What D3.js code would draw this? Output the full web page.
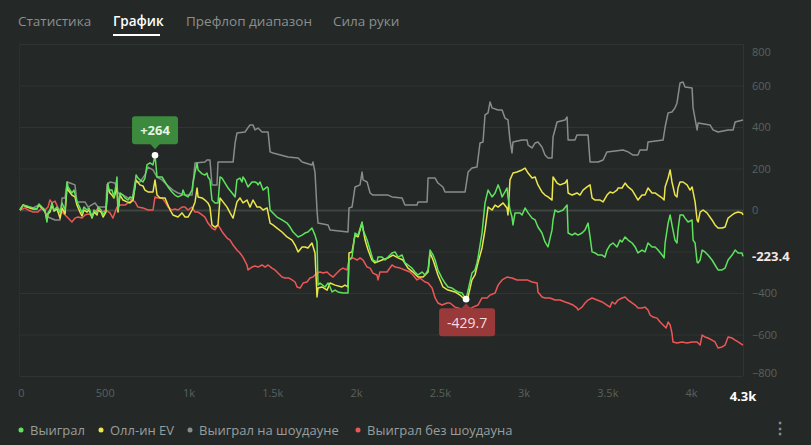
<!DOCTYPE html>
<html><head><meta charset="utf-8">
<script src="https://cdn.jsdelivr.net/npm/d3@7"></script>
<style>
html,body{margin:0;padding:0;background:#242928;}
svg{display:block;}
text{font-family:"Open Sans","Noto Sans",sans-serif;}
</style></head><body>
<svg id="c" width="811" height="445"></svg>
<script>
const tabs = ["Статистика","График","Префлоп диапазон","Сила руки"];
const tabX = [18,113,186,333];
const yTicks = [800,600,400,200,0,-200,-400,-600,-800];
const yTickLabelsShown = [800,600,400,200,0,-400,-600,-800];
const xTicks = [0,500,1000,1500,2000,2500,3000,3500,4000];
const xTickLabels = ["0","500","1k","1.5k","2k","2.5k","3k","3.5k","4k"];
const totalHands = 4316;
const seriesNames = ["Выиграл","Олл-ин EV","Выиграл на шоудауне","Выиграл без шоудауна"];
const seriesColors = ["#5ee35c","#ece64a","#8a8c8b","#ee5656"];

const wonData = [[0,0],[18,24],[42,19],[60,14],[78,10],[101,5],[113,29],[131,14],[149,0],[161,-58],[167,-14],[179,0],[191,34],[203,0],[221,14],[239,-14],[251,34],[269,0],[281,135],[287,111],[310,82],[322,96],[340,39],[358,10],[370,-14],[382,14],[400,0],[412,10],[430,-34],[442,0],[460,-14],[466,14],[484,0],[496,-24],[513,0],[525,130],[531,96],[549,96],[561,63],[573,121],[579,159],[585,0],[597,82],[615,72],[627,58],[645,48],[657,63],[669,58],[681,82],[693,169],[704,154],[716,145],[734,135],[746,154],[758,217],[776,227],[794,217],[806,264],[818,159],[836,159],[848,159],[866,135],[884,111],[907,87],[925,72],[943,63],[967,72],[973,96],[985,72],[1003,63],[1027,96],[1033,135],[1045,183],[1057,227],[1063,193],[1087,174],[1104,169],[1116,178],[1122,159],[1134,145],[1146,48],[1164,34],[1182,34],[1194,159],[1206,154],[1224,130],[1242,106],[1266,82],[1284,63],[1295,145],[1313,154],[1325,135],[1331,159],[1343,145],[1361,111],[1385,135],[1403,135],[1415,130],[1421,121],[1433,135],[1451,96],[1475,111],[1481,106],[1493,0],[1510,-14],[1534,-34],[1564,-48],[1594,-63],[1612,-82],[1630,-106],[1660,-130],[1684,-121],[1701,-111],[1719,-106],[1743,-87],[1761,-121],[1773,-154],[1779,-362],[1791,-352],[1821,-371],[1839,-352],[1851,-371],[1863,-395],[1881,-386],[1898,-395],[1928,-400],[1958,-400],[1964,-241],[1982,-227],[2000,-111],[2018,-121],[2042,-58],[2048,-96],[2072,-145],[2090,-193],[2107,-241],[2131,-251],[2137,-227],[2161,-227],[2179,-241],[2197,-227],[2221,-207],[2239,-202],[2257,-227],[2281,-217],[2298,-255],[2316,-265],[2340,-280],[2358,-299],[2376,-313],[2400,-299],[2418,-313],[2436,-289],[2448,-193],[2466,-217],[2478,-241],[2495,-289],[2519,-328],[2537,-352],[2555,-371],[2579,-376],[2597,-386],[2615,-395],[2639,-400],[2657,-424],[2663,-429.7],[2675,-386],[2698,-304],[2716,-289],[2728,-255],[2734,-231],[2758,-111],[2776,34],[2794,96],[2818,63],[2836,82],[2854,121],[2866,96],[2878,63],[2895,87],[2907,106],[2913,63],[2925,0],[2937,-34],[2943,-72],[2955,-14],[2985,-14],[2997,-24],[3015,10],[3033,-14],[3057,-39],[3075,-48],[3092,-82],[3116,-111],[3134,-154],[3152,-178],[3176,-96],[3182,-48],[3194,0],[3212,-10],[3242,0],[3266,24],[3272,-111],[3296,-121],[3313,-111],[3331,-121],[3355,-111],[3373,-96],[3391,-63],[3403,-130],[3415,-202],[3433,-207],[3451,-217],[3475,-217],[3492,-227],[3504,-193],[3522,-169],[3540,-159],[3564,-178],[3582,-145],[3594,-154],[3612,-130],[3630,-145],[3654,-159],[3672,-178],[3689,-207],[3713,-193],[3731,-202],[3749,-159],[3773,-178],[3791,-178],[3809,-193],[3833,-217],[3845,-231],[3851,-159],[3869,-63],[3881,-24],[3892,-72],[3910,-145],[3922,-159],[3928,-96],[3940,-24],[3958,-24],[3970,-39],[3988,-58],[4012,-48],[4018,-145],[4030,-159],[4042,-251],[4048,-255],[4060,-241],[4072,-193],[4089,-202],[4107,-217],[4131,-241],[4149,-265],[4167,-289],[4191,-289],[4209,-280],[4227,-241],[4251,-217],[4269,-193],[4287,-207],[4310,-207],[4316,-223.4]];

const allinEvData = [[0,0],[18,24],[42,14],[60,10],[78,5],[101,5],[113,24],[131,10],[149,-5],[161,-48],[167,-19],[179,-10],[191,24],[203,-5],[221,5],[239,-39],[251,10],[269,-19],[281,111],[287,96],[310,72],[328,63],[340,24],[358,-10],[370,-29],[382,0],[400,-10],[412,0],[430,-39],[442,-10],[460,-24],[466,0],[484,-10],[496,-34],[513,-10],[525,111],[537,82],[549,72],[561,58],[579,111],[585,-10],[597,72],[615,48],[639,39],[657,34],[675,48],[693,145],[716,121],[734,116],[746,96],[764,87],[794,87],[806,145],[818,72],[836,58],[866,58],[878,34],[896,0],[913,-24],[943,-34],[967,-14],[985,-34],[1003,-34],[1027,0],[1045,39],[1057,106],[1063,63],[1087,58],[1104,48],[1122,34],[1134,14],[1146,-72],[1164,-82],[1182,-72],[1194,58],[1212,39],[1236,14],[1254,-14],[1272,-39],[1295,39],[1313,58],[1331,34],[1355,48],[1373,14],[1391,48],[1415,14],[1433,14],[1451,0],[1475,10],[1493,-63],[1510,-72],[1534,-87],[1564,-106],[1594,-130],[1624,-145],[1642,-169],[1660,-202],[1684,-178],[1701,-178],[1719,-183],[1743,-159],[1761,-207],[1773,-419],[1779,-376],[1803,-371],[1833,-386],[1851,-352],[1881,-362],[1922,-371],[1940,-362],[1958,-371],[1964,-207],[1982,-202],[2000,-121],[2018,-130],[2042,-63],[2060,-145],[2078,-193],[2101,-241],[2119,-255],[2161,-241],[2197,-231],[2227,-217],[2257,-231],[2286,-241],[2316,-280],[2346,-299],[2376,-323],[2406,-323],[2436,-299],[2448,-207],[2466,-241],[2495,-313],[2525,-371],[2555,-386],[2597,-395],[2627,-410],[2657,-434],[2675,-419],[2698,-337],[2716,-313],[2734,-255],[2758,-183],[2776,-96],[2794,14],[2818,0],[2836,24],[2854,14],[2884,34],[2907,10],[2913,-24],[2925,145],[2943,178],[2967,183],[2997,193],[3015,202],[3033,178],[3057,154],[3075,159],[3092,121],[3116,87],[3134,72],[3152,63],[3176,48],[3182,159],[3206,130],[3224,121],[3254,130],[3266,145],[3272,82],[3296,72],[3325,82],[3343,72],[3361,96],[3385,111],[3403,121],[3415,58],[3433,48],[3463,48],[3481,39],[3504,72],[3522,87],[3540,82],[3564,96],[3570,106],[3594,106],[3612,130],[3630,111],[3654,96],[3672,72],[3689,48],[3713,72],[3731,72],[3749,106],[3773,82],[3791,82],[3809,72],[3833,58],[3845,48],[3851,111],[3869,154],[3881,193],[3892,135],[3910,72],[3922,63],[3928,106],[3940,135],[3958,135],[3982,121],[4000,96],[4012,111],[4030,39],[4042,-48],[4048,-58],[4060,-10],[4078,0],[4101,-14],[4131,-48],[4149,-72],[4167,-87],[4191,-87],[4209,-82],[4227,-39],[4251,-24],[4269,-14],[4287,-10],[4310,-14],[4316,-24]];

const showdownData = [[0,0],[18,24],[42,14],[78,10],[113,24],[149,-10],[167,-34],[209,-48],[239,-48],[251,58],[269,58],[281,135],[299,130],[328,121],[340,39],[388,39],[406,14],[448,34],[466,14],[513,14],[519,121],[537,135],[567,130],[585,82],[615,72],[669,48],[687,135],[716,135],[746,169],[764,207],[794,193],[818,159],[848,145],[884,116],[913,96],[943,82],[985,72],[1027,72],[1045,227],[1104,231],[1116,241],[1134,241],[1146,121],[1176,121],[1182,231],[1272,231],[1284,323],[1295,371],[1343,376],[1373,410],[1391,410],[1403,386],[1421,395],[1445,376],[1481,376],[1493,280],[1510,275],[1600,255],[1660,251],[1684,231],[1743,217],[1749,231],[1761,183],[1773,0],[1779,-63],[1839,-72],[1851,-96],[1958,-106],[1964,10],[1982,14],[2000,111],[2030,121],[2042,183],[2048,145],[2072,135],[2090,82],[2107,72],[2197,72],[2221,63],[2281,58],[2298,24],[2370,24],[2376,39],[2430,39],[2436,154],[2478,154],[2495,130],[2525,111],[2537,87],[2657,87],[2675,183],[2698,202],[2728,207],[2746,323],[2764,328],[2776,458],[2794,468],[2806,521],[2818,492],[2854,482],[2878,482],[2895,443],[2913,434],[2925,337],[2937,275],[2943,328],[2997,337],[3027,337],[3033,313],[3057,299],[3075,323],[3092,328],[3116,304],[3134,265],[3152,251],[3176,251],[3182,352],[3206,424],[3254,434],[3266,448],[3272,337],[3313,337],[3325,362],[3391,362],[3403,231],[3451,231],[3481,241],[3504,280],[3600,289],[3630,280],[3660,265],[3689,265],[3701,289],[3743,289],[3749,328],[3839,337],[3851,400],[3869,468],[3892,472],[3910,492],[3922,516],[3940,612],[3958,617],[3970,593],[4012,588],[4018,492],[4042,386],[4048,419],[4119,410],[4137,386],[4167,376],[4227,386],[4257,386],[4269,424],[4316,434]];

const nonShowdownData = [[0,0],[30,10],[48,0],[78,-10],[107,-10],[131,10],[149,0],[167,14],[179,48],[191,34],[209,43],[227,10],[251,-10],[269,-24],[287,-39],[310,-58],[328,-39],[346,-34],[370,-39],[388,-24],[406,-19],[430,-24],[448,-10],[466,10],[490,-10],[513,0],[537,-14],[555,-39],[579,14],[597,24],[627,24],[645,34],[669,48],[687,39],[704,14],[734,10],[764,0],[794,0],[806,63],[824,58],[848,58],[866,39],[884,14],[907,0],[925,5],[943,0],[967,14],[985,14],[1003,0],[1027,14],[1045,-10],[1063,-10],[1087,-24],[1104,-34],[1122,-63],[1146,-87],[1164,-96],[1182,-72],[1194,-87],[1212,-111],[1236,-135],[1254,-145],[1272,-169],[1295,-193],[1313,-207],[1331,-227],[1355,-265],[1361,-289],[1385,-275],[1403,-270],[1421,-275],[1445,-265],[1463,-275],[1481,-265],[1504,-280],[1522,-289],[1540,-304],[1564,-323],[1582,-328],[1606,-328],[1624,-337],[1642,-347],[1654,-371],[1672,-376],[1690,-352],[1713,-347],[1731,-328],[1749,-323],[1773,-304],[1791,-299],[1809,-304],[1833,-299],[1851,-313],[1869,-323],[1892,-304],[1910,-289],[1928,-280],[1952,-289],[1964,-241],[1988,-231],[2012,-241],[2030,-231],[2048,-241],[2072,-275],[2090,-280],[2107,-304],[2131,-313],[2137,-337],[2149,-299],[2191,-299],[2221,-265],[2239,-275],[2269,-280],[2298,-289],[2328,-299],[2346,-313],[2370,-337],[2388,-328],[2418,-347],[2436,-352],[2460,-376],[2478,-424],[2495,-448],[2519,-458],[2549,-448],[2567,-448],[2597,-468],[2615,-472],[2645,-482],[2675,-482],[2704,-468],[2734,-458],[2758,-424],[2788,-424],[2806,-410],[2836,-400],[2854,-362],[2878,-337],[2907,-323],[2937,-328],[2967,-337],[2997,-337],[3027,-337],[3057,-347],[3087,-352],[3092,-395],[3116,-419],[3134,-424],[3164,-424],[3194,-434],[3224,-434],[3254,-443],[3272,-448],[3302,-458],[3325,-472],[3331,-482],[3355,-468],[3373,-448],[3391,-434],[3415,-424],[3445,-434],[3475,-443],[3504,-458],[3522,-468],[3534,-443],[3552,-453],[3570,-434],[3594,-424],[3612,-419],[3630,-434],[3654,-448],[3672,-458],[3689,-472],[3713,-472],[3731,-468],[3749,-482],[3761,-506],[3779,-516],[3803,-521],[3821,-540],[3839,-554],[3857,-569],[3869,-540],[3881,-554],[3892,-593],[3898,-636],[3922,-641],[3952,-636],[3982,-641],[4012,-636],[4042,-636],[4060,-651],[4072,-603],[4089,-612],[4107,-617],[4131,-627],[4149,-636],[4167,-665],[4191,-660],[4209,-651],[4227,-612],[4251,-617],[4269,-627],[4287,-636],[4316,-651]];

const maxPoint = [806, 264];
const minPoint = [2663, -429.7];
const lastValue = -223.4;

const svg = d3.select("#c");
const x = d3.scaleLinear().domain([0,totalHands]).range([20,743]);
const y = d3.scaleLinear().domain([-800,800]).range([376,44]);

// tabs
const tg = svg.append("g");
tabs.forEach((t,i)=>{
  tg.append("text").attr("x",tabX[i]).attr("y",26).text(t)
    .attr("font-size",13.5).attr("fill", i===1?"#ffffff":"#8b8f8d")
    .attr("font-weight", i===1?600:400);
});
tg.append("rect").attr("x",113).attr("y",34).attr("width",47).attr("height",2).attr("fill","#ffffff");

// grid
svg.append("g").selectAll("line").data(yTicks).join("line")
  .attr("x1",20).attr("x2",743).attr("y1",d=>y(d)+0.5).attr("y2",d=>y(d)+0.5)
  .attr("stroke",d=>d===0?"#3e4442":"#2f3533").attr("stroke-width",d=>d===0?2:1);
svg.append("line").attr("x1",743.5).attr("x2",743.5).attr("y1",44).attr("y2",376).attr("stroke","#2f3533");
svg.append("line").attr("x1",19.5).attr("x2",19.5).attr("y1",44).attr("y2",376).attr("stroke","#2a302e");

// y axis labels (right)
const yAxis = d3.axisRight(y).tickValues(yTickLabelsShown).tickSize(0).tickPadding(9);
const ya = svg.append("g").attr("transform","translate(743,0)").call(yAxis);
ya.select(".domain").remove();
ya.selectAll("text").attr("font-size",11).attr("fill","#5a605e")
  .attr("font-family","'Open Sans','Noto Sans',sans-serif")
  .attr("dy",d=>d===800?"1.05em":(d===-800?"0.05em":"0.32em"));

// x axis labels
const xAxis = d3.axisBottom(x).tickValues(xTicks).tickFormat((d,i)=>xTickLabels[i]).tickSize(0).tickPadding(0);
const xa = svg.append("g").attr("transform","translate(1,388)").call(xAxis);
xa.select(".domain").remove();
xa.selectAll("text").attr("font-size",11).attr("fill","#5a605e")
  .attr("font-family","'Open Sans','Noto Sans',sans-serif").attr("dy","0.8em");
svg.append("text").attr("x",x(totalHands)).attr("y",401).attr("text-anchor","middle")
  .attr("font-size",13).attr("font-weight",700).attr("fill","#ffffff").text("4.3k");

// lines
const line = d3.line().x(d=>x(d[0])).y(d=>y(d[1]));
const all = [[showdownData,2],[nonShowdownData,3],[allinEvData,1],[wonData,0]];
all.forEach(([data,ci])=>{
  svg.append("path").attr("d",line(data)).attr("fill","none")
    .attr("stroke",seriesColors[ci]).attr("stroke-width",1.5).attr("stroke-linejoin","round");
});

// max annotation
const mx = x(maxPoint[0]), my = y(maxPoint[1]);
const ga = svg.append("g");
ga.append("rect").attr("x",mx-23).attr("y",my-39).attr("width",46).attr("height",28).attr("rx",3).attr("fill","#3b8a3d");
ga.append("path").attr("d",`M${mx-5},${my-11.5}L${mx},${my-6}L${mx+5},${my-11.5}Z`).attr("fill","#3b8a3d");
ga.append("text").attr("x",mx).attr("y",my-20).attr("text-anchor","middle").attr("font-size",13)
  .attr("font-weight",700).attr("fill","#e6f3e4").text("+" + maxPoint[1]);
ga.append("circle").attr("cx",mx).attr("cy",my).attr("r",3.3).attr("fill","#ffffff");

// min annotation
const nx = x(minPoint[0]), ny = y(minPoint[1]);
const gb = svg.append("g");
gb.append("rect").attr("x",nx-27).attr("y",ny+9).attr("width",56).attr("height",28).attr("rx",3).attr("fill","#9a3939");
gb.append("path").attr("d",`M${nx-5},${ny+9.5}L${nx},${ny+4}L${nx+5},${ny+9.5}Z`).attr("fill","#9a3939");
gb.append("text").attr("x",nx+1).attr("y",ny+28.5).attr("text-anchor","middle").attr("font-size",14)
  .attr("fill","#f3dede").text(String(minPoint[1]));
gb.append("circle").attr("cx",nx).attr("cy",ny).attr("r",3.3).attr("fill","#ffffff");

// last value label
svg.append("text").attr("x",752).attr("y",y(lastValue)).attr("dy","0.35em")
  .attr("font-size",13).attr("font-weight",700).attr("fill","#f6e6e4").text(String(lastValue));

// legend
const legX = [21,101,190,358];
const lg = svg.append("g");
seriesNames.forEach((n,i)=>{
  lg.append("circle").attr("cx",legX[i]).attr("cy",430).attr("r",2.5).attr("fill",seriesColors[i]);
  lg.append("text").attr("x",legX[i]+9).attr("y",430).attr("dy","0.35em").attr("font-size",13)
    .attr("fill","#9a9e9c").text(n);
});
lg.append("text").attr("x",780).attr("y",428).attr("dy","0.35em").attr("text-anchor","middle")
  .attr("font-size",16).attr("font-weight",700).attr("fill","#8b8f8d").text("⋮");
</script>
</body></html>
